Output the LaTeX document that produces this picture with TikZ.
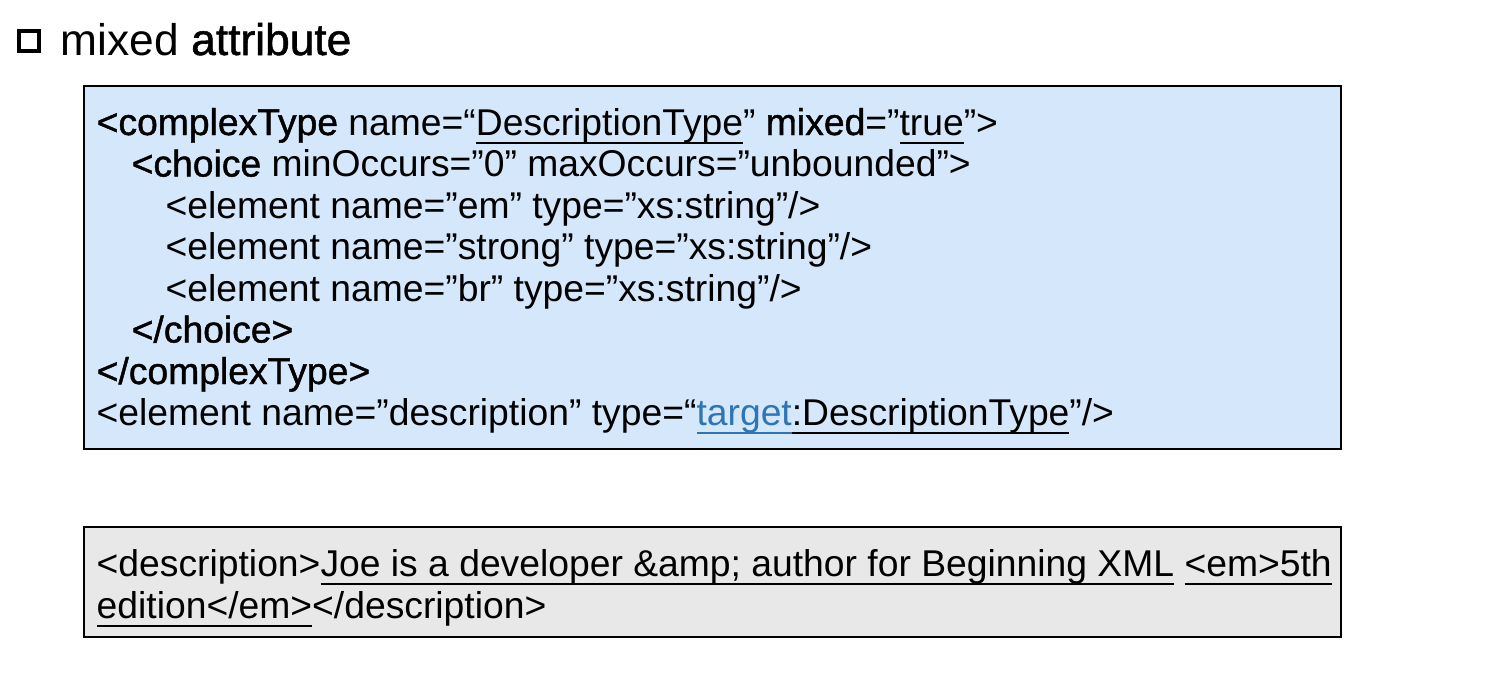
\documentclass[tikz,border=0pt]{standalone}
\usepackage{fontspec}
\setmainfont{Liberation Sans}
\newfontfamily\heavyfont[FakeBold=1.2]{Liberation Sans}
\definecolor{schemablue}{RGB}{213,232,251}
\definecolor{samplegray}{RGB}{232,232,232}
\definecolor{linkblue}{RGB}{46,117,182}
\newcommand{\kw}[1]{{\heavyfont #1}}
\newcommand{\uln}[1]{{\setbox0\hbox{#1}\rlap{\rule[-2.5pt]{\wd0}{0.55pt}}\box0}}

\begin{document}
\begin{tikzpicture}
      [x=0.01cm,y=-0.01cm,
       codeline/.style={anchor=base west, inner sep=0pt, font=\fontsize{10.6}{12}\selectfont},
       codebox/.style={draw, line width=0.65pt, anchor=north west, inner sep=0pt}]
    \useasboundingbox (0,0) rectangle (1496,700);

    % heading
    \node[draw, line width=1.3pt, minimum size=0.2cm, inner sep=0pt] (bullet) at (29,41) {};
    \node[anchor=base west, inner sep=0pt, font=\fontsize{12.6}{15}\selectfont] (title) at (60,55) {mixed \kw{attribute}};

    % schema box
    \node[codebox, fill=schemablue, minimum width=12.56cm, minimum height=3.63cm] (schema) at (83,85) {};
    \node[codeline] (s1) at (96,135) {\kw{<complexType} name=“\uln{DescriptionType}” \kw{mixed}=”\uln{true}”>};
    \node[codeline] (s2) at (131,176.5) {\kw{<choice} minOccurs=”0” maxOccurs=”unbounded”>};
    \node[codeline] (s3) at (165,218) {<element name=”em” type=”xs:string”/>};
    \node[codeline] (s4) at (165,259.5) {<element name=”strong” type=”xs:string”/>};
    \node[codeline] (s5) at (165,301) {<element name=”br” type=”xs:string”/>};
    \node[codeline] (s6) at (131,342.5) {\kw{</choice>}};
    \node[codeline] (s7) at (96,384) {\kw{</complexType>}};
    \node[codeline] (s8) at (96,425) {<element name=”description” type=“{\color{linkblue}\uln{target}}\uln{:DescriptionType}”/>};

    % instance box
    \node[codebox, fill=samplegray, minimum width=12.56cm, minimum height=1.10cm] (sample) at (83,526) {};
    \node[codeline] (d1) at (96,576) {<description>\uln{Joe is a developer \&amp; author for Beginning XML} \uln{<em>5th}};
    \node[codeline] (d2) at (96,618) {\uln{edition</em>}</description>};
  \end{tikzpicture}
\end{document}
